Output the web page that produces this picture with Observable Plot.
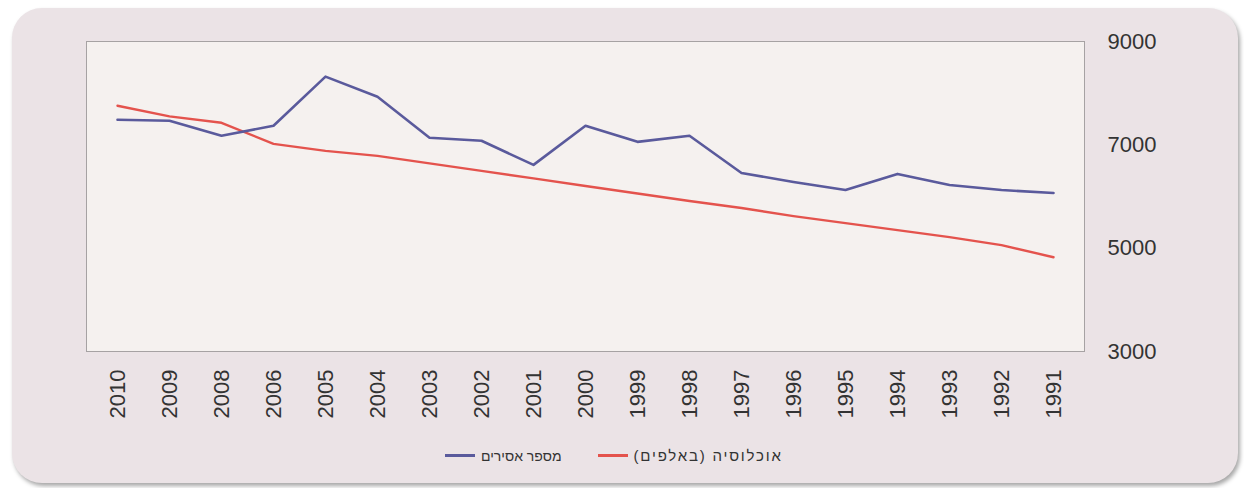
<!DOCTYPE html>
<html lang="he">
<head>
<meta charset="utf-8">
<script src="https://cdn.jsdelivr.net/npm/d3@7"></script>
<script src="https://cdn.jsdelivr.net/npm/@observablehq/plot@0.6"></script>
<style>
  html, body { margin: 0; padding: 0; background: #ffffff; width: 1244px; height: 488px; overflow: hidden; }
  #card {
    position: absolute; left: 12px; top: 8px; width: 1226px; height: 475px;
    background: #ebe3e6; border-radius: 30px;
    box-shadow: 2px 3px 4px rgba(0,0,0,0.35);
  }
  #chart { position: absolute; left: 0; top: 0; }
  #chart svg { background: transparent !important; }
  g[aria-label="frame"] rect { filter: drop-shadow(3px 4px 2px rgba(0,0,0,0.35)); }
  #legend {
    position: absolute; top: 447px; left: 445px;
    display: flex; flex-direction: row; align-items: center;
    font-family: "Liberation Sans", Arial, sans-serif; font-size: 14px; color: #333;
  }
  .sw { display: inline-block; width: 30px; height: 2.5px; margin-right: 6px; }
  .item { display: flex; align-items: center; margin-right: 36px; }
  .lab { direction: rtl; unicode-bidi: embed; }
  .item:nth-child(2) .lab { letter-spacing: 1.8px; font-size: 15px; }
</style>
</head>
<body>
<div id="card"></div>
<div id="chart"></div>
<div id="legend"></div>
<script>
// Categories (x axis, left to right as shown)
const years = ["2010","2009","2008","2006","2005","2004","2003","2002","2001","2000","1999","1998","1997","1996","1995","1994","1993","1992","1991"];
// Series: number of prisoners
const prisoners = [7485,7466,7175,7369,8320,7932,7136,7078,6612,7369,7058,7175,6456,6282,6126,6437,6223,6126,6068];
// Series: population (thousands)
const population = [7757,7550,7427,7019,6883,6786,6641,6495,6350,6204,6058,5913,5777,5621,5485,5350,5214,5058,4825];
// Y tick labels
const yTicks = [3000,5000,7000,9000];
// Series names
const seriesNames = ["מספר אסירים", "אוכלוסיה (באלפים)"];
const seriesColors = ["#5a5a9c", "#e4534d"];

const dataP = years.map((y, i) => ({year: y, value: prisoners[i]}));
const dataQ = years.map((y, i) => ({year: y, value: population[i]}));

const chart = Plot.plot({
  width: 1244,
  height: 440,
  marginTop: 41,
  marginBottom: 89,
  marginLeft: 86,
  marginRight: 160,
  style: {background: "transparent", fontFamily: "'Liberation Sans', Arial, sans-serif", color: "#333"},
  x: {type: "point", domain: years, padding: 0.5},
  y: {domain: [3000, 9000]},
  marks: [
    Plot.frame({fill: "#f5f1ef", stroke: "#a6a2a3", strokeWidth: 1}),
    Plot.line(dataQ, {x: "year", y: "value", stroke: seriesColors[1], strokeWidth: 2.4}),
    Plot.line(dataP, {x: "year", y: "value", stroke: seriesColors[0], strokeWidth: 2.6}),
    Plot.axisX({tickRotate: -90, tickSize: 0, tickPadding: 18, fontSize: 22, fill: "#333", label: null}),
    Plot.axisY({anchor: "right", ticks: yTicks, tickSize: 0, tickPadding: 23, fontSize: 22, fill: "#333", tickFormat: d3.format("d"), label: null})
  ]
});
document.getElementById("chart").appendChild(chart);

const legend = document.getElementById("legend");
seriesNames.forEach((name, i) => {
  const item = document.createElement("div");
  item.className = "item";
  const sw = document.createElement("span");
  sw.className = "sw";
  sw.style.background = seriesColors[i];
  const lab = document.createElement("span");
  lab.className = "lab";
  lab.textContent = name;
  item.appendChild(sw);
  item.appendChild(lab);
  legend.appendChild(item);
});
</script>
</body>
</html>
